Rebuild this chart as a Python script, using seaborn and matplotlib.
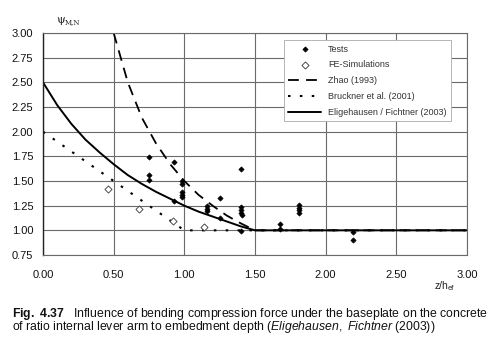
import numpy as np
import pandas as pd
import matplotlib
matplotlib.use("Agg")
import matplotlib.pyplot as plt
import seaborn as sns
from matplotlib import font_manager

# ---- data ----
tests_x = [0.75, 0.75, 0.75, 0.93, 0.93, 0.98, 0.98, 0.98, 0.98, 0.98,
           1.16, 1.16, 1.16, 1.25, 1.25, 1.40, 1.40, 1.40, 1.40, 1.41, 1.40,
           1.68, 1.68, 1.81, 1.81, 1.81, 1.81, 2.19, 2.19]
tests_y = [1.74, 1.56, 1.51, 1.69, 1.30, 1.50, 1.47, 1.39, 1.36, 1.34,
           1.25, 1.22, 1.20, 1.33, 1.13, 1.62, 1.24, 1.21, 1.18, 1.16, 0.99,
           1.06, 1.01, 1.26, 1.23, 1.21, 1.18, 0.98, 0.90]

fe_x = [0.46, 0.68, 0.92, 1.14]
fe_y = [1.42, 1.22, 1.09, 1.03]

zhao_x = [0.50, 0.60, 0.70, 0.80, 0.90, 1.00, 1.10, 1.20, 1.30, 1.40, 1.50, 3.00]
zhao_y = [3.00, 2.50, 2.14, 1.88, 1.67, 1.50, 1.36, 1.25, 1.15, 1.07, 1.00, 1.00]

bruck_x = [0.00, 1.00, 3.00]
bruck_y = [2.00, 1.00, 1.00]

elig_x = [0.0, 0.1, 0.2, 0.3, 0.4, 0.5, 0.6, 0.7, 0.8, 0.9, 1.0,
          1.1, 1.2, 1.3, 1.4, 1.5, 3.0]
elig_y = [2.50, 2.27, 2.08, 1.92, 1.79, 1.67, 1.56, 1.47, 1.39, 1.32, 1.25,
          1.19, 1.14, 1.09, 1.04, 1.00, 1.00]

x_ticks = [0.0, 0.5, 1.0, 1.5, 2.0, 2.5, 3.0]
y_ticks = [0.75, 1.00, 1.25, 1.50, 1.75, 2.00, 2.25, 2.50, 2.75, 3.00]

labels = ["Tests", "FE-Simulations", "Zhao (1993)", "Bruckner et al. (2001)",
          "Eligehausen / Fichtner (2003)"]

caption = (r"$\bf{Fig.\ 4.37}$   Influence of bending compression force under the baseplate on the concrete"
           "\n"
           r"of ratio internal lever arm to embedment depth ($\it{Eligehausen,\ Fichtner}$ (2003))")

# ---- plotting ----
sns.set_theme(style="white")
plt.rcParams['font.family'] = ['Liberation Sans', 'DejaVu Sans']

names = {f.name for f in font_manager.fontManager.ttflist}
narrow = 'Liberation Sans Narrow' if 'Liberation Sans Narrow' in names else 'Liberation Sans'
cap_family = [narrow, 'DejaVu Sans']
plt.rcParams['mathtext.fontset'] = 'custom'
plt.rcParams['mathtext.rm'] = narrow
plt.rcParams['mathtext.it'] = narrow + ':italic'
plt.rcParams['mathtext.bf'] = narrow + ':bold'

fig = plt.figure(figsize=(4.96, 3.61), dpi=100)
ax = fig.add_axes([43/496, 1-255/361, 424/496, 222/361])

grid_c = "#6a6a6a"
ax.set_xlim(0, 3.0)
ax.set_ylim(0.75, 3.0)
ax.set_xticks(x_ticks)
ax.set_yticks(y_ticks)
ax.grid(True, color=grid_c, linewidth=0.8)
ax.set_axisbelow(True)
for s in ax.spines.values():
    s.set_color(grid_c)
    s.set_linewidth(0.8)
ax.spines['left'].set_color("#222222")
ax.spines['left'].set_linewidth(1.0)

sns.scatterplot(x=tests_x, y=tests_y, ax=ax, marker="D", s=7, color="black",
                edgecolor="black", linewidth=0.5, label=labels[0], zorder=5)
sns.scatterplot(x=fe_x, y=fe_y, ax=ax, marker="D", s=13, facecolor="white",
                edgecolor="#333333", linewidth=0.6, label=labels[1], zorder=5)
sns.lineplot(x=zhao_x, y=zhao_y, ax=ax, color="black", linewidth=1.3,
             label=labels[2], sort=False)
ax.lines[-1].set_linestyle((0, (6, 4)))
sns.lineplot(x=bruck_x, y=bruck_y, ax=ax, color="black", linewidth=1.5,
             label=labels[3], sort=False)
ax.lines[-1].set_linestyle((0, (1.2, 4.5)))
sns.lineplot(x=elig_x, y=elig_y, ax=ax, color="black", linewidth=1.4,
             label=labels[4], sort=False)

ax.set_xticklabels([f"{v:.2f}" for v in x_ticks])
ax.set_yticklabels([f"{v:.2f}" for v in y_ticks])
ax.tick_params(axis='both', labelsize=8, colors="#111111", length=3,
               width=0.8, direction='out')
ax.tick_params(axis='x', pad=8)
ax.tick_params(axis='y', pad=4)
ax.set_xlabel("")
ax.set_ylabel("")

leg = ax.legend(loc="upper left", bbox_to_anchor=(0.568, 0.968), frameon=True,
                fontsize=6.5, fancybox=False, edgecolor="#aaaaaa",
                framealpha=1, handlelength=3.6, handletextpad=0.8,
                labelspacing=0.75, borderpad=0.5, borderaxespad=0)
leg.get_frame().set_linewidth(0.6)
for t in leg.get_texts():
    t.set_color("#333333")

fig.text(56/496, 1-20/361, "\u03c8", fontsize=8, family="DejaVu Serif",
         va="center", ha="left", color="#222222")
fig.text(65/496, 1-22/361, "M,N", fontsize=5, family="DejaVu Serif",
         va="center", ha="left", color="#222222")
fig.text(448/496, 1-286/361, "z/h", fontsize=7.5,
         va="center", ha="right", color="#222222")
fig.text(448/496, 1-288/361, "ef", fontsize=5.5,
         va="center", ha="left", color="#222222")

fig.text(12/496, 1-306/361, caption, fontsize=8.8, family=cap_family,
         va="top", ha="left", color="#111111", linespacing=0.74)

fig.savefig("out.png", dpi=100)
